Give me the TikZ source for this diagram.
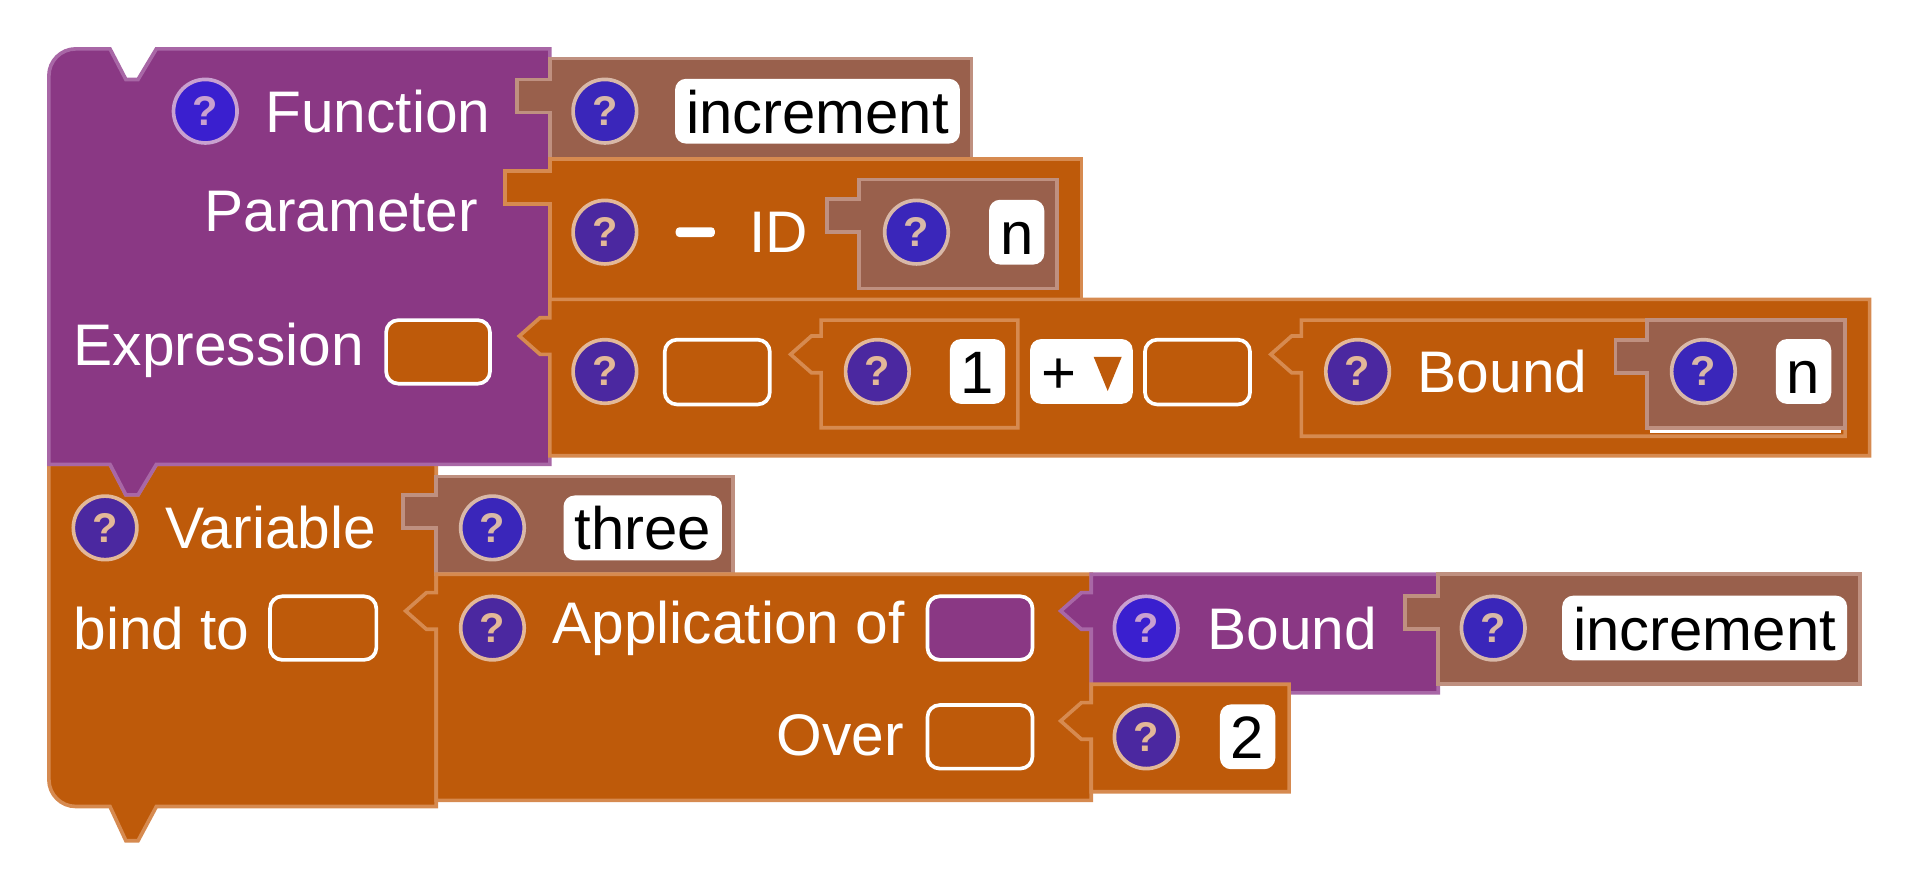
\documentclass[tikz,border=0pt]{standalone}
\usepackage{fontspec}
\setmainfont{Liberation Sans}
\begin{document}
\definecolor{pur}{HTML}{8A3884}\definecolor{purb}{HTML}{A867A6}
\definecolor{org}{HTML}{BE5A0A}\definecolor{orgb}{HTML}{D68A50}
\definecolor{brn}{HTML}{99604C}\definecolor{brnb}{HTML}{BF9080}
\newcommand\atab[2]{-- ({#1},{#2+30}) -- ({#1-8},{#2+30}) -- ({#1-25},{#2+15}) -- ({#1-8},{#2}) -- ({#1},{#2})}
\newcommand\rtab[3]{-- ({#1},{#2+27}) -- ({#1-#3},{#2+27}) -- ({#1-#3},{#2}) -- ({#1},{#2})}
\begin{tikzpicture}[x=1pt,y=-1pt,line join=miter,
  pblk/.style={fill=pur,draw=purb,line width=3},
  oblk/.style={fill=org,draw=orgb,line width=3},
  bblk/.style={fill=brn,draw=brnb,line width=3},
  txt/.style={text=white,font=\fontsize{48}{56}\selectfont,inner sep=0,anchor=west},
  lab/.style={fill=white,rounded corners=9,text=black,font=\fontsize{49}{56}\selectfont,minimum height=53,inner xsep=9,inner ysep=0,text depth=0pt,text height=36},
  slot/.style={draw=white,line width=3,rounded corners=10},
  q/.style={circle,minimum size=52,inner sep=0,line width=3,font=\fontsize{34}{34}\selectfont\bfseries},
  qp/.style={q,fill={rgb,255:red,58;green,31;blue,207},draw={rgb,255:red,201;green,160;blue,208},text={rgb,255:red,201;green,160;blue,208}},
  qo/.style={q,fill={rgb,255:red,75;green,40;blue,160},draw={rgb,255:red,227;green,184;blue,152},text={rgb,255:red,227;green,184;blue,152}},
  qb/.style={q,fill={rgb,255:red,58;green,38;blue,186},draw={rgb,255:red,216;green,184;blue,168},text={rgb,255:red,216;green,184;blue,168}}]
\useasboundingbox (0,0) rectangle (1568,727);
% variable block
\path[oblk] (40,380) -- (90,380) -- (103,405) -- (113,405) -- (128,380) -- (357,380) -- (357,660) -- (128,660) -- (113,688) -- (103,688) -- (90,660) -- (62,660) arc[start angle=90,end angle=180,radius=22] -- cycle;
% function block
\path[pblk] (40,62) arc[start angle=180,end angle=270,radius=22] -- (90,40) -- (103,65) -- (113,65) -- (128,40) -- (450,40) -- (450,380) -- (128,380) -- (113,405) -- (103,405) -- (90,380) -- (40,380) -- cycle;
\node[qp] (q1) at (168,91) {?};
\node[txt] (tfun) at (217,91) {Function};
\node[txt] (tpar) at (167,173) {Parameter};
\node[txt] (texp) at (60,287) {Expression};
\draw[slot,fill=org] (316,262) rectangle (401,314);
% increment name
\path[bblk] (450,48) -- (795,48) -- (795,130) -- (450,130) \rtab{450}{65}{27} -- cycle;
\node[qb] (q2) at (495,91) {?};
\node[lab] (l1) at (669,91) {increment};
% parameter
\path[oblk] (450,130) -- (885,130) -- (885,245) -- (450,245) \rtab{450}{140}{37} -- cycle;
\node[qo] (q3) at (495,190) {?};
\fill[white,rounded corners=3] (553,186) rectangle (585,194);
\node[txt] (tid) at (613,190) {ID};
\path[bblk] (703,147) -- (865,147) -- (865,236) -- (703,236) \rtab{703}{163}{26} -- cycle;
\node[qb] (q4) at (750,190) {?};
\node[lab] (l2) at (832,190) {n};
% expression
\path[oblk] (450,245) -- (1530,245) -- (1530,373) -- (450,373) \atab{450}{260} -- cycle;
\node[qo] (q5) at (495,304) {?};
\draw[slot] (544,278) rectangle (630,331);
\path[oblk] (672,262) -- (833,262) -- (833,350) -- (672,350) \atab{672}{275} -- cycle;
\node[qo] (q6) at (718,304) {?};
\node[lab] (l3) at (800,304) {1};
\node[lab,minimum width=84,text width=66,align=left] (l4) at (885,304) {+};
\fill[org] (895,292) -- (918,292) -- (906.5,320) -- cycle;
\draw[slot] (937,278) rectangle (1023,331);
\path[oblk] (1065,262) -- (1510,262) -- (1510,357) -- (1065,357) \atab{1065}{275} -- cycle;
\node[qo] (q7) at (1111,304) {?};
\node[txt] (tb1) at (1160,304) {Bound};
\path[bblk] (1348,262) -- (1510,262) -- (1510,350) -- (1348,350) \rtab{1348}{278}{26} -- cycle;
\node[qb] (q8) at (1394,304) {?};
\node[lab] (l5) at (1476,304) {n};
\draw[white,line width=3] (1350,353) -- (1507,353);
% variable row
\node[qo] (q9) at (86,432) {?};
\node[txt] (tvar) at (135,432) {Variable};
\path[bblk] (357,390) -- (600,390) -- (600,470) -- (357,470) \rtab{357}{405}{27} -- cycle;
\node[qb] (q10) at (403,432) {?};
\node[lab] (l6) at (526,432) {three};
\node[txt] (tbind) at (60,514) {bind to};
\draw[slot] (221,488) rectangle (308,540);
% application
\path[oblk] (357,470) -- (893,470) -- (893,655) -- (357,655) \atab{357}{485} -- cycle;
\node[qo] (q11) at (403,514) {?};
\node[txt] (tapp) at (452,514) {Application of};
\draw[slot,fill=pur] (759,488) rectangle (845,540);
\node[txt,anchor=east] (tover) at (740,602) {Over};
\draw[slot] (759,577) rectangle (845,629);
\path[pblk] (893,470) -- (1177,470) -- (1177,567) -- (893,567) \atab{893}{485} -- cycle;
\node[qp] (q12) at (938,514) {?};
\node[txt] (tb2) at (988,514) {Bound};
\path[bblk] (1177,470) -- (1522,470) -- (1522,560) -- (1177,560) \rtab{1177}{488}{27} -- cycle;
\node[qb] (q13) at (1222,514) {?};
\node[lab] (l7) at (1395,514) {increment};
\path[oblk] (893,560) -- (1055,560) -- (1055,648) -- (893,648) \atab{893}{575} -- cycle;
\node[qo] (q14) at (938,603) {?};
\node[lab] (l8) at (1021,603) {2};
\end{tikzpicture}
\end{document}
